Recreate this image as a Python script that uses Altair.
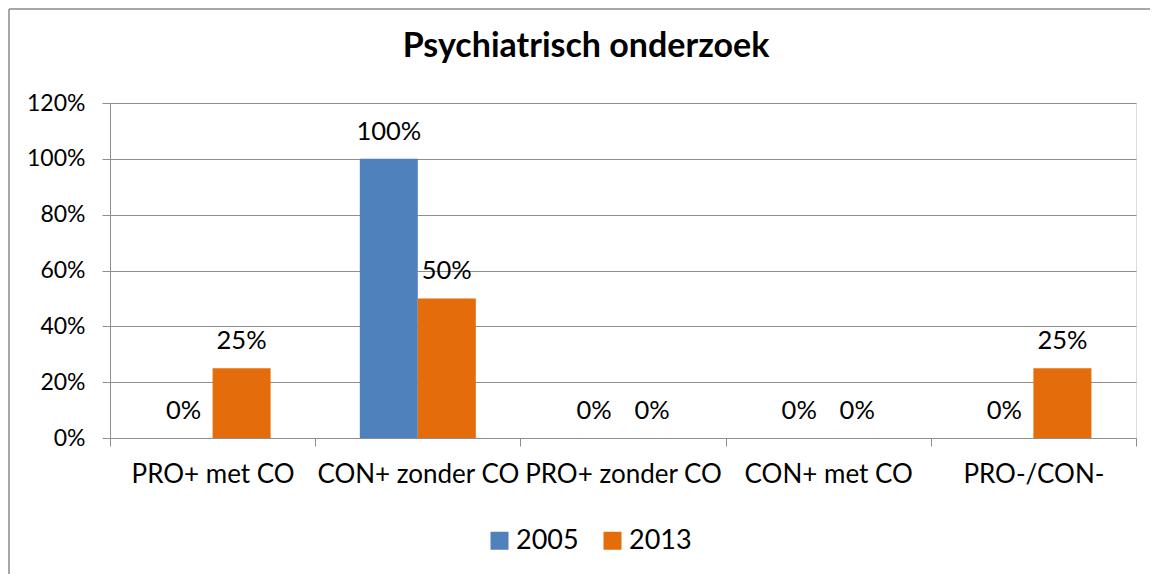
import altair as alt
import pandas as pd

categories = ["PRO+ met CO", "CON+ zonder CO", "PRO+ zonder CO", "CON+ met CO", "PRO-/CON-"]
years = ["2005", "2013"]
v2005 = [0.0, 1.0, 0.0, 0.0, 0.0]
v2013 = [0.25, 0.50, 0.0, 0.0, 0.25]
y_ticks = [0, 0.2, 0.4, 0.6, 0.8, 1.0, 1.2]
colors = ["#4F81BD", "#E46C0A"]

rows = []
for c, a, b in zip(categories, v2005, v2013):
    rows.append({"cat": c, "year": "2005", "value": a})
    rows.append({"cat": c, "year": "2013", "value": b})
df = pd.DataFrame(rows)

FONT = "Lato"
GRID = "#8E8E8E"

x = alt.X("cat:N", sort=categories, title=None,
          scale=alt.Scale(paddingInner=0, paddingOuter=0),
          axis=alt.Axis(tickBand="extent", labelFont=FONT, labelFontSize=26,
                        labelColor="#000000", labelAngle=0, labelPadding=15,
                        tickSize=8, tickColor=GRID, domainColor=GRID, grid=False,
                        labelLimit=300))
xo = alt.XOffset("year:N", sort=years,
                 scale=alt.Scale(paddingInner=0, paddingOuter=0.769))
y = alt.Y("value:Q", title=None,
          scale=alt.Scale(domain=[0, 1.2], nice=False),
          axis=alt.Axis(values=y_ticks, format=".0%", labelFont=FONT, labelFontSize=23,
                        labelColor="#000000", labelPadding=17, tickSize=8,
                        tickColor=GRID, domainColor=GRID, gridColor=GRID))
color = alt.Color("year:N", sort=years,
                  scale=alt.Scale(domain=years, range=colors),
                  legend=alt.Legend(title=None, orient="none", legendX=376, legendY=424,
                                    direction="horizontal", symbolType="square",
                                    symbolSize=324, symbolStrokeWidth=0,
                                    labelFont=FONT, labelFontSize=27, labelColor="#000000",
                                    labelOffset=3, columnPadding=20, padding=0))

base = alt.Chart(df)
bars = base.mark_bar(size=58).encode(x=x, xOffset=xo, y=y, color=color)
labels = base.mark_text(font=FONT, fontSize=25.5, color="#000000",
                        baseline="alphabetic", dy=-19).encode(
    x=x, xOffset=xo, y=y, text=alt.Text("value:Q", format=".0%"))

border = alt.Chart(alt.Data(values=[{}]))
left_line = border.mark_rule(color="#8A8A8A", strokeWidth=1.5).encode(
    x=alt.value(-101), y=alt.value(-94), y2=alt.value(480))
top_line = border.mark_rule(color="#8A8A8A", strokeWidth=1.5).encode(
    x=alt.value(-101), x2=alt.value(1060), y=alt.value(-94))

chart = alt.layer(bars, labels, left_line, top_line).properties(
    width=1026, height=335,
    title=alt.TitleParams("Psychiatrisch onderzoek", font=FONT, fontSize=34,
                          fontWeight="bold", color="#000000", anchor="middle",
                          dx=-37, offset=-56),
    autosize=alt.AutoSizeParams(type="none"),
    padding={"left": 102, "top": 95, "right": 14, "bottom": 136},
).configure_view(stroke=None).configure(background="white")

chart.save("out.html", embed_options={"renderer": "svg", "actions": False})
